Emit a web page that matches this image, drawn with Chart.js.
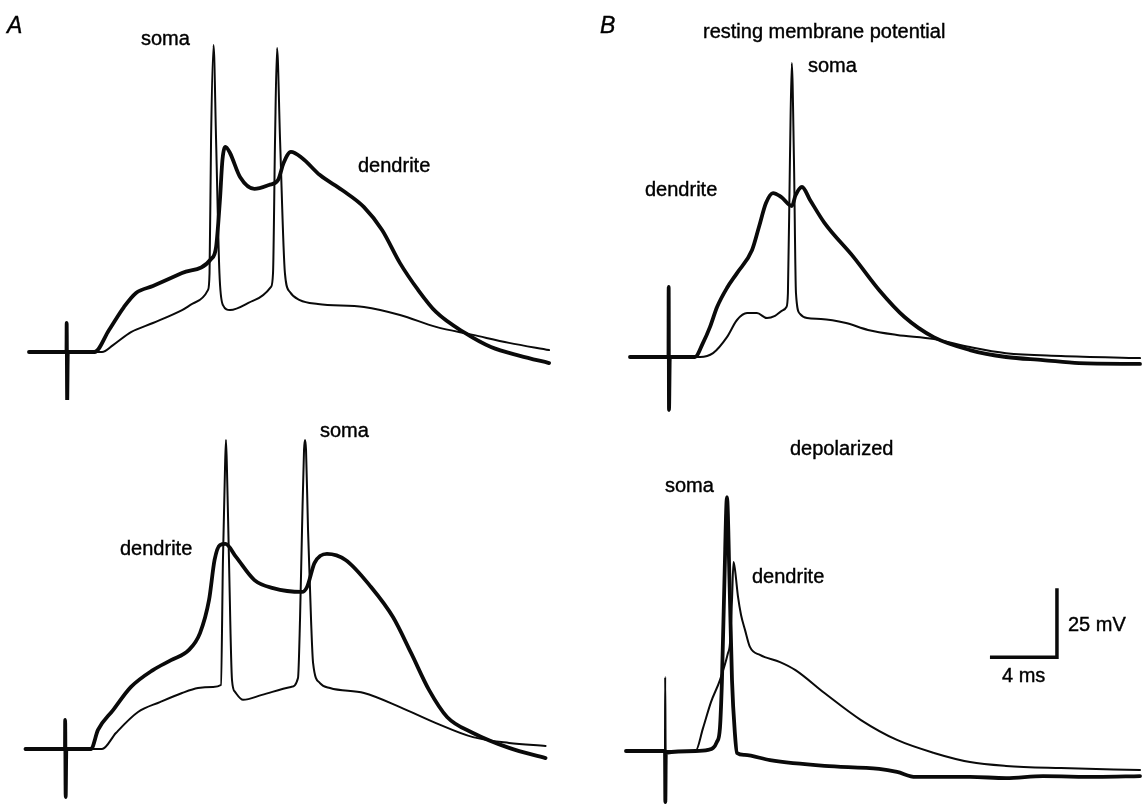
<!DOCTYPE html>
<html>
<head>
<meta charset="utf-8">
<title>Soma and dendrite recordings</title>
<script src="https://cdn.jsdelivr.net/npm/chart.js@4.4.1/dist/chart.umd.min.js"></script>
<style>
  html, body { margin: 0; padding: 0; background: #fff; }
  #figure { position: relative; width: 1142px; height: 804px; overflow: hidden; }
  #figure canvas { position: absolute; }
  .lbl {
    position: absolute;
    font: 20px "Liberation Sans", Arial, sans-serif;
    line-height: 20px;
    color: #000;
    -webkit-text-stroke: 0.4px #000;
    white-space: nowrap;
  }
  .panel { font-style: italic; font-size: 23px; }
</style>
</head>
<body>
<div id="figure">
  <canvas id="aTop"></canvas>
  <canvas id="aBottom"></canvas>
  <canvas id="bRest"></canvas>
  <canvas id="bDepol"></canvas>

  <div class="lbl panel" style="left:7px; top:15px;">A</div>
  <div class="lbl" style="left:141px; top:28px;">soma</div>
  <div class="lbl" style="left:358px; top:155px;">dendrite</div>
  <div class="lbl" style="left:320px; top:420px;">soma</div>
  <div class="lbl" style="left:120px; top:538px;">dendrite</div>

  <div class="lbl panel" style="left:600px; top:15px;">B</div>
  <div class="lbl" style="left:703px; top:21px;">resting membrane potential</div>
  <div class="lbl" style="left:808px; top:55px;">soma</div>
  <div class="lbl" style="left:645px; top:179px;">dendrite</div>
  <div class="lbl" style="left:790px; top:438px;">depolarized</div>
  <div class="lbl" style="left:665px; top:475px;">soma</div>
  <div class="lbl" style="left:752px; top:566px;">dendrite</div>
  <div class="lbl" style="left:1068px; top:614px;">25 mV</div>
  <div class="lbl" style="left:1002px; top:665px;">4 ms</div>
</div>
<script>
// [time in ms after the stimulus, mV above rest]

// A, upper pair
const aTopDendrite = [[-2.24,0],[0,0],[0.01,10.5],[0.04,-18.1],[0.08,0],[1.67,0],[2.54,8.0],[3.43,16.3],
  [4.15,21.4],[5.16,23.9],[6.90,28.6],[8.63,33.7],[8.93,38.0],[9.16,55.1],[9.31,69.6],[9.49,74.3],
  [9.76,72.1],[10.36,63.4],[11.22,59.1],[12.09,60.5],[12.63,62.3],[12.96,68.5],[13.40,72.5],[14.06,70.3],
  [15.13,64.1],[16.45,58.7],[17.76,52.5],[18.84,44.2],[19.91,32.2],[20.99,22.5],[22.06,14.5],[23.79,6.9],
  [25.34,1.8],[27.07,-1.4],[28.81,-4.0]];
const aTopSoma = [[-2.24,0],[1.67,0],[2.12,0],[2.78,2.5],[3.85,7.2],[5.16,10.5],[6.90,15.2],[7.73,18.1],
  [8.45,22.5],[8.54,28.6],[8.63,76.8],[8.78,111.2],[8.93,76.8],[9.13,28.6],[9.34,17.0],[9.76,15.2],
  [11.22,18.8],[12.21,23.6],[12.33,28.6],[12.45,76.8],[12.57,110.1],[12.75,76.8],[13.04,28.6],[13.34,21.7],
  [13.93,18.8],[15.01,17.4],[17.76,16.3],[19.91,13.4],[22.06,9.1],[24.27,6.2],[26.42,3.3],[28.81,0.7]];

// A, lower pair
const aBottomDendrite = [[-2.36,0],[0,0],[0.01,10.5],[0.04,-17.4],[0.08,0],[1.55,0],[1.97,6.9],[2.87,14.1],
  [3.94,22.5],[5.25,28.6],[6.33,32.2],[7.40,35.9],[8.06,42.0],[8.60,54.0],[8.93,68.5],[9.25,73.9],
  [9.58,74.3],[10.21,69.6],[11.31,61.2],[12.42,58.3],[14.15,56.9],[14.45,58.7],[14.90,67.4],[15.64,70.7],
  [16.75,68.5],[18.27,58.7],[19.58,47.8],[20.66,34.8],[21.73,21.4],[22.81,11.6],[24.36,5.8],[26.51,0.4],
  [28.69,-3.3]];
const aBottomSoma = [[-2.36,0],[2.21,0],[3.04,5.8],[4.36,13.4],[5.67,17.0],[6.99,20.3],[7.94,22.1],[8.84,22.5],
  [9.31,23.2],[9.43,68.5],[9.55,101.1],[9.61,112.0],[9.67,101.1],[9.79,68.5],[9.97,25.0],[10.15,20.7],
  [10.63,17.8],[11.76,19.6],[13.49,22.5],[13.91,25.7],[14.03,46.7],[14.15,79.3],[14.27,108.3],[14.33,112.0],
  [14.39,108.3],[14.51,79.3],[14.69,46.7],[14.81,31.2],[15.22,23.9],[15.82,22.1],[17.85,20.3],[20.00,15.2],
  [22.15,9.4],[24.36,4.3],[26.51,2.2],[28.69,1.1]];

// B, resting membrane potential
const bRestDendrite = [[-2.30,0],[0,0],[0.01,25.4],[0.03,-19.2],[0.08,0],[1.58,0],[2.06,5.1],[2.48,10.9],
  [2.90,18.1],[3.49,25.0],[4.09,30.4],[4.99,38.8],[5.40,47.1],[5.82,55.8],[6.24,59.4],[6.72,58.0],
  [7.37,54.7],[7.58,58.5],[7.97,61.6],[8.45,56.9],[9.31,48.6],[11.05,36.2],[12.57,24.3],[14.09,14.5],
  [15.83,7.2],[18.00,2.5],[20.15,0],[22.36,-1.1],[24.51,-2.2],[28.15,-2.5]];
const bRestSoma = [[-2.30,0],[1.88,0],[2.66,1.4],[3.49,7.2],[4.09,13.4],[4.69,15.9],[5.28,15.9],[5.88,14.1],
  [6.36,14.9],[6.84,17.0],[7.04,18.1],[7.13,23.2],[7.25,71.4],[7.36,106.5],[7.49,71.4],[7.61,23.2],
  [7.85,15.6],[8.27,14.1],[9.10,13.8],[10.60,12.3],[11.91,9.8],[13.64,8.0],[15.85,6.5],[18.00,3.6],
  [20.15,1.4],[23.43,0.4],[28.15,-0.4]];

// B, depolarized
const bDepolSoma = [[-2.33,0],[0,0],[0.02,-18.5],[0.05,-0.7],[1.82,0],[2.57,0.4],[3.10,3.3],[3.28,8.3],
  [3.40,25.7],[3.55,62.0],[3.70,92.0],[3.85,62.0],[4.00,25.7],[4.18,5.8],[4.30,-0.7],[4.75,-1.4],
  [6.27,-3.3],[9.52,-5.4],[12.78,-6.5],[13.85,-7.6],[14.96,-9.4],[18.21,-9.4],[20.36,-9.8],[22.57,-9.1],
  [25.79,-9.4],[28.36,-9.1]];
const bDepolDendrite = [[0,0],[0.01,26.8],[0.04,0],[1.82,0],[2.27,8.3],[2.75,17.8],[3.28,25.7],[3.76,35.5],
  [3.88,39.1],[4.00,54.7],[4.09,68.5],[4.18,65.6],[4.36,55.8],[4.54,49.3],[4.78,43.8],[5.07,37.7],
  [5.67,34.8],[6.87,32.2],[7.79,29.3],[9.52,21.0],[11.70,11.2],[13.85,4.0],[16.06,-0.7],[18.21,-4.0],
  [20.36,-5.4],[23.64,-6.2],[28.36,-6.9]];

// calibration bar
const scaleBarMs = 4;
const scaleBarMv = 25;

// drawing scale, shared by all four panels
const PX_PER_MS = 16.75;
const PX_PER_MV = 2.76;
const INK = '#0a0a0a';

const panels = [
  { id: 'aTop',    left: 0,   top: 0,   width: 571, height: 400, stimX: 66.5,  restY: 352, thick: aTopDendrite,    thin: aTopSoma },
  { id: 'aBottom', left: 0,   top: 400, width: 571, height: 404, stimX: 65,    restY: 749, thick: aBottomDendrite, thin: aBottomSoma },
  { id: 'bRest',   left: 571, top: 0,   width: 571, height: 420, stimX: 668.5, restY: 357, thick: bRestDendrite,   thin: bRestSoma },
  { id: 'bDepol',  left: 571, top: 420, width: 571, height: 384, stimX: 665,   restY: 751, thick: bDepolSoma,      thin: bDepolDendrite, bar: true }
];

const toXY = pts => pts.map(p => ({ x: p[0], y: p[1] }));

function trace(pts, width) {
  return {
    data: toXY(pts),
    showLine: true,
    borderColor: INK,
    borderWidth: width,
    pointRadius: 0,
    cubicInterpolationMode: 'monotone',
    borderJoinStyle: 'round',
    borderCapStyle: 'round',
    clip: false
  };
}

panels.forEach(p => {
  const canvas = document.getElementById(p.id);
  canvas.width = p.width;
  canvas.height = p.height;
  canvas.style.left = p.left + 'px';
  canvas.style.top = p.top + 'px';

  // axis limits so that t = 0 sits on the stimulus and 0 mV on the resting line
  const xMin = (p.left - p.stimX) / PX_PER_MS;
  const xMax = xMin + p.width / PX_PER_MS;
  const yMax = (p.restY - p.top) / PX_PER_MV;
  const yMin = yMax - p.height / PX_PER_MV;

  const datasets = [trace(p.thin, 2), trace(p.thick, 3.8)];

  if (p.bar) {
    // corner of the L sits at 23.4 ms, 34 mV in this panel
    const cx = 23.4, cy = 34;
    datasets.push({
      data: [{ x: cx - scaleBarMs, y: cy }, { x: cx, y: cy }, { x: cx, y: cy + scaleBarMv }],
      showLine: true,
      borderColor: INK,
      borderWidth: 3.5,
      pointRadius: 0,
      tension: 0,
      borderJoinStyle: 'miter',
      clip: false
    });
  }

  new Chart(canvas, {
    type: 'scatter',
    data: { datasets },
    options: {
      responsive: false,
      animation: false,
      devicePixelRatio: 1,
      layout: { padding: 0 },
      plugins: { legend: { display: false }, tooltip: { enabled: false } },
      events: [],
      scales: {
        x: { type: 'linear', min: xMin, max: xMax, display: false },
        y: { type: 'linear', min: yMin, max: yMax, display: false }
      }
    }
  });
});
</script>
</body>
</html>
